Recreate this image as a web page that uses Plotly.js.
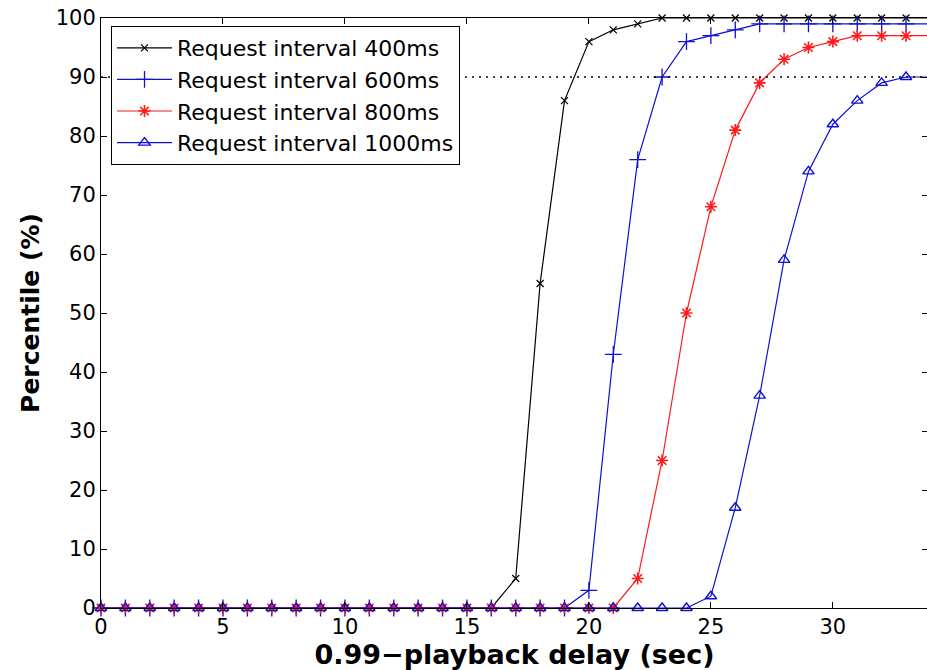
<!DOCTYPE html>
<html>
<head>
<meta charset="utf-8">
<script src="https://cdn.plot.ly/plotly-3.0.1.min.js"></script>
<style>
html, body { margin: 0; padding: 0; background: #fff; overflow: hidden; }
#chart { width: 930px; height: 670px; }
</style>
</head>
<body>
<div id="chart"></div>
<script>
// Data
const delay = [0,1,2,3,4,5,6,7,8,9,10,11,12,13,14,15,16,17,18,19,20,21,22,23,24,25,26,27,28,29,30,31,32,33,34];
const interval400  = [0,0,0,0,0,0,0,0,0,0,0,0,0,0,0,0,0,5,55,86,96,98,99,100,100,100,100,100,100,100,100,100,100,100,100];
const interval600  = [0,0,0,0,0,0,0,0,0,0,0,0,0,0,0,0,0,0,0,0,3,43,76,90,96,97,98,99,99,99,99,99,99,99,99];
const interval800  = [0,0,0,0,0,0,0,0,0,0,0,0,0,0,0,0,0,0,0,0,0,0,5,25,50,68,81,89,93,95,96,97,97,97,97];
const interval1000 = [0,0,0,0,0,0,0,0,0,0,0,0,0,0,0,0,0,0,0,0,0,0,0,0,0,2,17,36,59,74,82,86,89,90,90];
const seriesNames = ["Request interval 400ms","Request interval 600ms","Request interval 800ms","Request interval 1000ms"];
const refLevel = 90;
const xTicks = [0,5,10,15,20,25,30];
const yTicks = [0,10,20,30,40,50,60,70,80,90,100];

const FONT = "DejaVu Sans, Liberation Sans, Arial, sans-serif";

function tr(y, name, color, symbol, size, mlw) {
  return {
    x: delay, y: y, name: name, type: "scatter", mode: "lines+markers",
    cliponaxis: false,
    line: {color: color, width: 1.2},
    marker: {symbol: symbol, size: size, color: color, line: {color: color, width: mlw}}
  };
}

const data = [
  tr(interval400,  seriesNames[0], "#000000", "x-thin-open", 7, 1.2),
  tr(interval600,  seriesNames[1], "#1010d0", "cross-thin-open", 12, 1.3),
  tr(interval800,  seriesNames[2], "#ff1a1a", "asterisk-open", 10, 1.6),
  tr(interval1000, seriesNames[3], "#1010d0", "triangle-up-open", 10, 1.4)
];

const layout = {
  width: 930, height: 670,
  margin: {l: 101, r: 2, t: 18, b: 62},
  paper_bgcolor: "#ffffff", plot_bgcolor: "#ffffff",
  font: {family: FONT, color: "#000000", size: 21},
  showlegend: true,
  legend: {
    x: 0.0121, y: 0.9864, xanchor: "left", yanchor: "top",
    bgcolor: "#ffffff", bordercolor: "#000000", borderwidth: 1,
    font: {family: FONT, size: 22, color: "#000000"},
    itemwidth: 55, tracegroupgap: 0
  },
  xaxis: {
    range: [0, 33.9], tickvals: xTicks, ticktext: xTicks.map(String),
    showgrid: false, zeroline: false,
    showline: true, linecolor: "#000000", linewidth: 1, mirror: "ticks",
    ticks: "inside", ticklen: 6, tickcolor: "#000000", tickwidth: 1,
    tickfont: {family: FONT, size: 21, color: "#000000"},
    title: {text: "0.99\u2212playback delay (sec)", font: {family: FONT, size: 27, color: "#000000", weight: "bold"}, standoff: 6}
  },
  yaxis: {
    range: [0, 100], tickvals: yTicks, ticktext: yTicks.map(String),
    showgrid: false, zeroline: false,
    showline: true, linecolor: "#000000", linewidth: 1, mirror: "ticks",
    ticks: "inside", ticklen: 6, tickcolor: "#000000", tickwidth: 1,
    tickfont: {family: FONT, size: 21, color: "#000000"},
    title: {text: "Percentile (%)", font: {family: FONT, size: 25, color: "#000000", weight: "bold"}, standoff: 8}
  },
  shapes: [{
    type: "line", xref: "paper", x0: 0, x1: 1, yref: "y", y0: refLevel, y1: refLevel,
    line: {color: "#000000", width: 1.3, dash: "2px,5px"}, layer: "above"
  }]
};

Plotly.newPlot("chart", data, layout, {staticPlot: true, displayModeBar: false});
</script>
</body>
</html>
